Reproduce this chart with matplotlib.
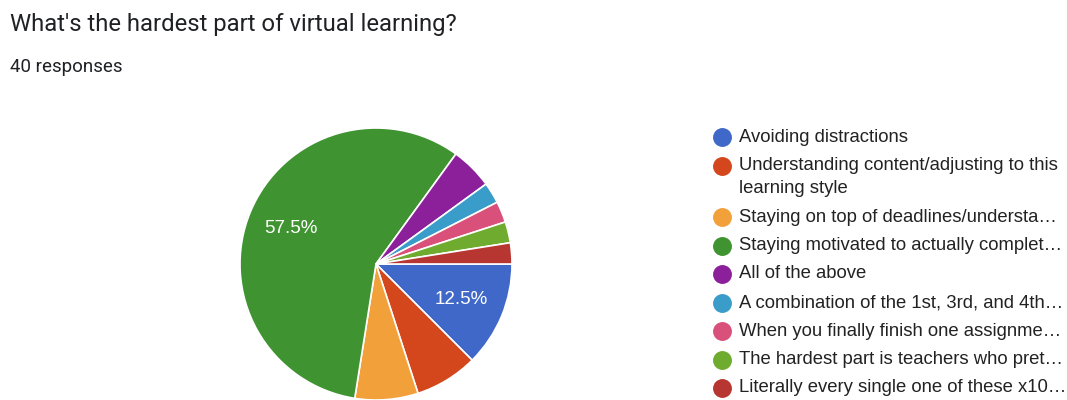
import matplotlib.pyplot as plt

# Survey data (40 responses)
labels = [
    "Avoiding distractions",
    "Understanding content/adjusting to this\nlearning style",
    "Staying on top of deadlines/understa…",
    "Staying motivated to actually complet…",
    "All of the above",
    "A combination of the 1st, 3rd, and 4th…",
    "When you finally finish one assignme…",
    "The hardest part is teachers who pret…",
    "Literally every single one of these x10…",
]
counts = [5, 3, 3, 23, 2, 1, 1, 1, 1]
colors = ["#3f68c8", "#d4461c", "#f2a03a", "#3f9330", "#8c1f9a",
          "#3a9cc9", "#d9507a", "#6fab2e", "#b73631"]

TITLE = "What's the hardest part of virtual learning?"
SUBTITLE = "40 responses"

fig = plt.figure(figsize=(10.67, 4), dpi=100)
ax = fig.add_axes([0, 0, 1, 1])


def pct_label(p):
    return f"{p:.1f}%" if p >= 10 else ""


# pixel-like coordinates, y downwards -> counterclock=True draws clockwise
ax.pie(counts, colors=colors, startangle=0, counterclock=True,
       center=(376, 264), radius=136, autopct=pct_label, pctdistance=0.68,
       wedgeprops=dict(edgecolor="white", linewidth=1.2),
       textprops=dict(color="white", fontsize=13.5, family="Liberation Sans"))
ax.set_xlim(0, 1067)
ax.set_ylim(400, 0)
ax.axis("off")

ax.text(10, 25, TITLE, fontsize=17.2, family="Roboto", color="#202124", va="center")
ax.text(10, 67, SUBTITLE, fontsize=13.5, family="Roboto", color="#202124", va="center")

# legend
y = 137
for lab, col in zip(labels, colors):
    ax.scatter([722], [y], s=185, color=col, zorder=3, linewidths=0)
    for k, line in enumerate(lab.split("\n")):
        ax.text(739, y + 23 * k, line, fontsize=13.3, family="Liberation Sans",
                color="#222222", va="center", ha="left")
    y += 28.5 + 23 * lab.count("\n")

fig.savefig("out.png", dpi=100)
